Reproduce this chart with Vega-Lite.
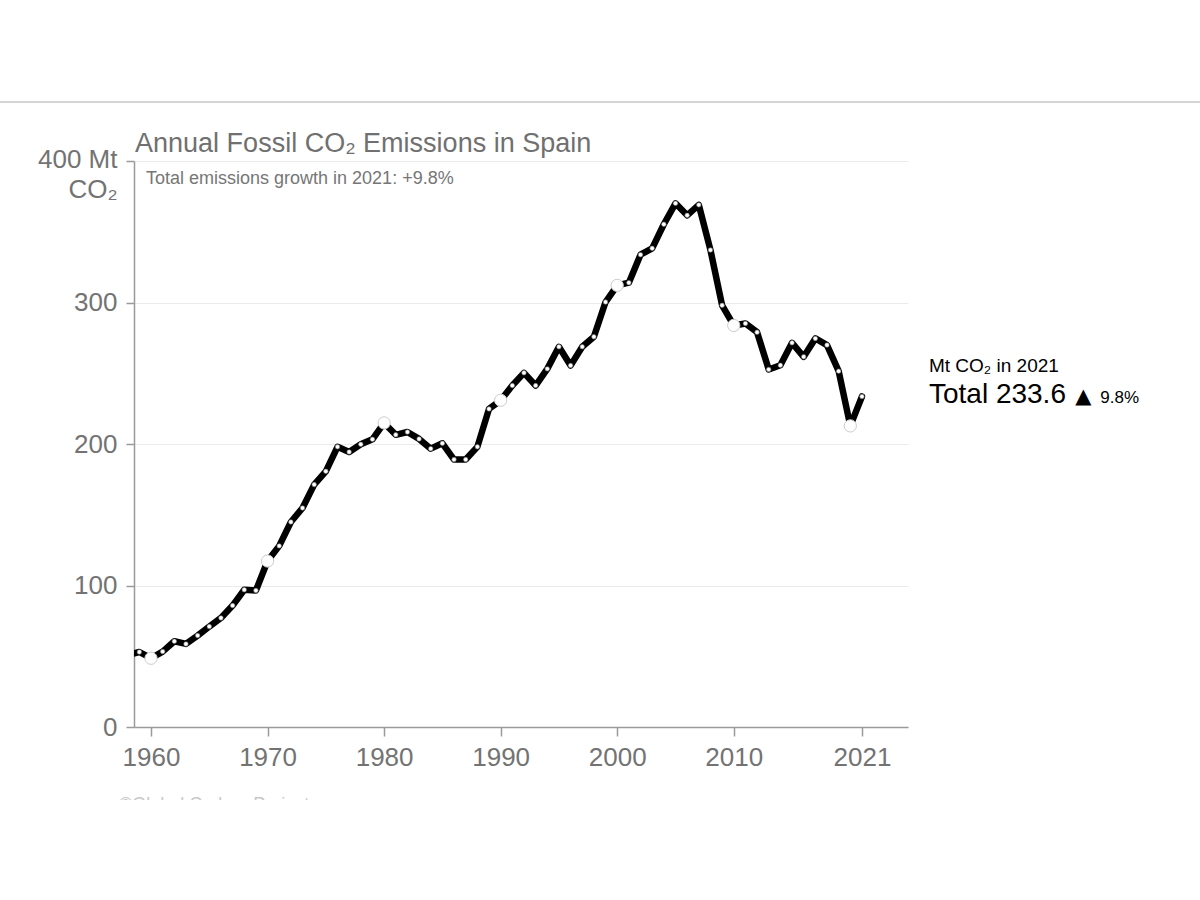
{
  "$schema": "https://vega.github.io/schema/vega-lite/v6.json",
  "width": 774,
  "height": 566,
  "autosize": {"type": "none"},
  "padding": {"left": 134, "top": 161, "right": 292, "bottom": 73},
  "background": "#ffffff",
  "config": {"view": {"stroke": null}, "font": "Liberation Sans"},
  "data": {
    "values": [
      {"year": 1958, "emissions": 51},
      {"year": 1959, "emissions": 53},
      {"year": 1960, "emissions": 48.6},
      {"year": 1961, "emissions": 53.3},
      {"year": 1962, "emissions": 60.6},
      {"year": 1963, "emissions": 58.7},
      {"year": 1964, "emissions": 64.6},
      {"year": 1965, "emissions": 71},
      {"year": 1966, "emissions": 77.1},
      {"year": 1967, "emissions": 85.8},
      {"year": 1968, "emissions": 97},
      {"year": 1969, "emissions": 96.5},
      {"year": 1970, "emissions": 117.3},
      {"year": 1971, "emissions": 128},
      {"year": 1972, "emissions": 144.9},
      {"year": 1973, "emissions": 154.8},
      {"year": 1974, "emissions": 171.3},
      {"year": 1975, "emissions": 180.7},
      {"year": 1976, "emissions": 198},
      {"year": 1977, "emissions": 194.4},
      {"year": 1978, "emissions": 199.8},
      {"year": 1979, "emissions": 203.3},
      {"year": 1980, "emissions": 214.9},
      {"year": 1981, "emissions": 206.5},
      {"year": 1982, "emissions": 208.5},
      {"year": 1983, "emissions": 203.6},
      {"year": 1984, "emissions": 196.7},
      {"year": 1985, "emissions": 200.5},
      {"year": 1986, "emissions": 189},
      {"year": 1987, "emissions": 189},
      {"year": 1988, "emissions": 198},
      {"year": 1989, "emissions": 224.8},
      {"year": 1990, "emissions": 230.9},
      {"year": 1991, "emissions": 241.3},
      {"year": 1992, "emissions": 250.3},
      {"year": 1993, "emissions": 241.3},
      {"year": 1994, "emissions": 253.1},
      {"year": 1995, "emissions": 268.7},
      {"year": 1996, "emissions": 255.5},
      {"year": 1997, "emissions": 268.7},
      {"year": 1998, "emissions": 275.8},
      {"year": 1999, "emissions": 300.3},
      {"year": 2000, "emissions": 312.1},
      {"year": 2001, "emissions": 314},
      {"year": 2002, "emissions": 333.8},
      {"year": 2003, "emissions": 338.3},
      {"year": 2004, "emissions": 355.3},
      {"year": 2005, "emissions": 370.1},
      {"year": 2006, "emissions": 361.6},
      {"year": 2007, "emissions": 369},
      {"year": 2008, "emissions": 337.1},
      {"year": 2009, "emissions": 298},
      {"year": 2010, "emissions": 283.8},
      {"year": 2011, "emissions": 285.2},
      {"year": 2012, "emissions": 279},
      {"year": 2013, "emissions": 252.7},
      {"year": 2014, "emissions": 255.7},
      {"year": 2015, "emissions": 271.5},
      {"year": 2016, "emissions": 261.6},
      {"year": 2017, "emissions": 274.6},
      {"year": 2018, "emissions": 269.9},
      {"year": 2019, "emissions": 251.5},
      {"year": 2020, "emissions": 212.8},
      {"year": 2021, "emissions": 233.6}
    ]
  },
  "layer": [
    {
      "mark": {"type": "line", "color": "#000000", "strokeWidth": 6.5, "clip": true, "strokeJoin": "round", "strokeCap": "round"},
      "encoding": {
        "x": {
          "field": "year", "type": "quantitative",
          "scale": {"domain": [1958.54, 2024.95], "nice": false, "zero": false},
          "axis": {
            "title": null,
            "values": [1960, 1970, 1980, 1990, 2000, 2010, 2021],
            "format": "d",
            "grid": false,
            "labelFont": "Liberation Sans",
            "labelFontSize": 26,
            "labelColor": "#737373",
            "labelPadding": 8,
            "tickSize": 9,
            "tickColor": "#9a9a9a",
            "tickWidth": 1.5,
            "domainColor": "#9a9a9a",
            "domainWidth": 1.5
          }
        },
        "y": {
          "field": "emissions", "type": "quantitative",
          "scale": {"domain": [0, 400], "nice": false},
          "axis": {
            "title": null,
            "values": [0, 100, 200, 300, 400],
            "labelExpr": "datum.value == 400 ? ['400 Mt', 'CO₂'] : datum.label",
            "labelFont": "Liberation Sans",
            "labelFontSize": 26,
            "labelLineHeight": 30,
            "labelColor": "#737373",
            "labelPadding": 9,
            "labelOffset": {"condition": {"test": "datum.value == 400", "value": -2}, "value": 0},
            "tickSize": 8,
            "tickColor": "#9a9a9a",
            "tickWidth": 1.5,
            "domainColor": "#9a9a9a",
            "domainWidth": 1.5,
            "grid": true,
            "gridColor": "#ebebeb",
            "gridWidth": 1
          }
        }
      }
    },
    {
      "transform": [{"filter": "datum.year % 10 != 0"}],
      "mark": {"type": "point", "filled": true, "fill": "#ffffff", "stroke": "#777777", "strokeWidth": 0.6, "size": 20, "opacity": 1, "clip": true},
      "encoding": {
        "x": {"field": "year", "type": "quantitative"},
        "y": {"field": "emissions", "type": "quantitative"}
      }
    },
    {
      "transform": [{"filter": "datum.year % 10 == 0"}],
      "mark": {"type": "point", "filled": true, "fill": "#ffffff", "stroke": "#cccccc", "strokeWidth": 1, "size": 150, "opacity": 1, "clip": true},
      "encoding": {
        "x": {"field": "year", "type": "quantitative"},
        "y": {"field": "emissions", "type": "quantitative"}
      }
    },
    {
      "data": {"values": [{}]},
      "mark": {"type": "rule", "color": "#d4d4d4", "strokeWidth": 2},
      "encoding": {
        "x": {"datum": 1947.0, "type": "quantitative"},
        "x2": {"datum": 2050.1},
        "y": {"datum": 441.7, "type": "quantitative"}
      }
    },
    {
      "data": {"values": [{}]},
      "mark": {"type": "text", "text": "Annual Fossil CO₂ Emissions in Spain", "font": "Liberation Sans", "fontSize": 27, "color": "#707070", "align": "left", "baseline": "alphabetic"},
      "encoding": {
        "x": {"datum": 1958.63, "type": "quantitative"},
        "y": {"datum": 406.4, "type": "quantitative"}
      }
    },
    {
      "data": {"values": [{}]},
      "mark": {"type": "text", "text": "Total emissions growth in 2021: +9.8%", "font": "Liberation Sans", "fontSize": 18, "color": "#767676", "align": "left", "baseline": "alphabetic"},
      "encoding": {
        "x": {"datum": 1959.57, "type": "quantitative"},
        "y": {"datum": 383.7, "type": "quantitative"}
      }
    },
    {
      "data": {"values": [{}]},
      "mark": {"type": "text", "text": "Mt CO₂ in 2021", "font": "Liberation Sans", "fontSize": 19, "color": "#000000", "align": "left", "baseline": "alphabetic"},
      "encoding": {
        "x": {"datum": 2026.75, "type": "quantitative"},
        "y": {"datum": 250.9, "type": "quantitative"}
      }
    },
    {
      "data": {"values": [{}]},
      "mark": {"type": "text", "text": "Total 233.6", "font": "Liberation Sans", "fontSize": 28, "color": "#000000", "align": "left", "baseline": "alphabetic"},
      "encoding": {
        "x": {"datum": 2026.75, "type": "quantitative"},
        "y": {"datum": 228.8, "type": "quantitative"}
      }
    },
    {
      "data": {"values": [{}]},
      "mark": {"type": "text", "text": "▲", "font": "DejaVu Sans", "fontSize": 21, "color": "#000000", "align": "left", "baseline": "alphabetic"},
      "encoding": {
        "x": {"datum": 2039.3, "type": "quantitative"},
        "y": {"datum": 228.8, "type": "quantitative"}
      }
    },
    {
      "data": {"values": [{}]},
      "mark": {"type": "text", "text": "9.8%", "font": "Liberation Sans", "fontSize": 17, "color": "#000000", "align": "left", "baseline": "alphabetic"},
      "encoding": {
        "x": {"datum": 2041.45, "type": "quantitative"},
        "y": {"datum": 228.8, "type": "quantitative"}
      }
    },
    {
      "data": {"values": [{}]},
      "mark": {"type": "text", "text": "©Global Carbon Project", "font": "Liberation Sans", "fontSize": 18, "color": "#c8c8c8", "align": "left", "baseline": "top"},
      "encoding": {
        "x": {"datum": 1957.25, "type": "quantitative"},
        "y": {"datum": -48.5, "type": "quantitative"}
      }
    }
  ]
}
